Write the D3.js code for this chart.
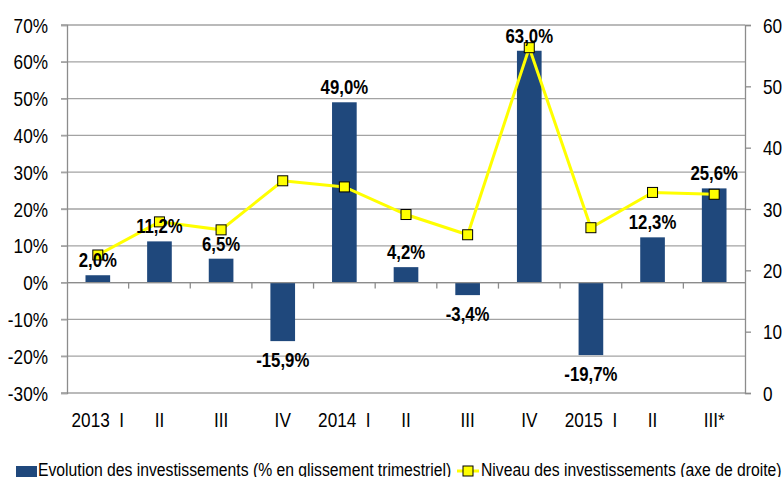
<!DOCTYPE html>
<html><head><meta charset="utf-8">
<script src="https://cdn.jsdelivr.net/npm/d3@7"></script>
<style>
html,body{margin:0;padding:0;background:#fff;overflow:hidden}
svg text{font-family:"Liberation Sans","Arial",sans-serif;fill:#000}
</style></head>
<body><svg id="c" width="783" height="477"></svg>
<script>
const categories = ["2013  I","II","III","IV","2014  I","II","III","IV","2015  I","II","III*"];
const growth = [2.0, 11.2, 6.5, -15.9, 49.0, 4.2, -3.4, 63.0, -19.7, 12.3, 25.6];
const level = [22.5, 27.9, 26.6, 34.6, 33.6, 29.1, 25.8, 56.3, 26.95, 32.7, 32.4];
const leftTicks = [-30,-20,-10,0,10,20,30,40,50,60,70];
const rightTicks = [0,10,20,30,40,50,60];
const seriesNames = ["Evolution des investissements (% en glissement trimestriel)","Niveau des investissements (axe de droite)"];

const S = 0.86; // horizontal condensing (narrow font look)
const svg = d3.select("#c");
const L = 67, R = 745, T = 25, B = 393;
const x = d3.scaleBand().domain(d3.range(categories.length)).range([L,R]).paddingInner(0.6).paddingOuter(0.3);
const xb = d3.scaleBand().domain(d3.range(categories.length)).range([L,R]);
const yL = d3.scaleLinear().domain([-30,70]).range([B,T]);
const yR = d3.scaleLinear().domain([0,60]).range([B,T]);
const fmt = v => d3.format(".1f")(v).replace(".",",").replace("−","-") + "%";
const tr = (X,Y) => `translate(${X},${Y}) scale(${S},1)`;

// gridlines
svg.append("g").selectAll("line").data(leftTicks).join("line")
  .attr("x1", L-6).attr("x2", R).attr("y1", d=>yL(d)).attr("y2", d=>yL(d))
  .attr("stroke", "#a3a3a3").attr("stroke-width", 1.3);

// left axis
const gl = svg.append("g").attr("transform",`translate(${L},0)`)
  .call(d3.axisLeft(yL).tickValues(leftTicks).tickSize(6).tickFormat(d=>d+"%"));
gl.select(".domain").attr("stroke","#8c8c8c").attr("stroke-width",1.3);
gl.selectAll(".tick line").attr("stroke","#a3a3a3").attr("stroke-width",1.3);
gl.selectAll("text").attr("font-size",20).attr("font-family",null).attr("dy","0.35em")
  .attr("x",-19/S).attr("transform",`scale(${S},1)`);

// right axis
const gr = svg.append("g").attr("transform",`translate(${R},0)`)
  .call(d3.axisRight(yR).tickValues(rightTicks).tickSize(6));
gr.select(".domain").attr("stroke","#8c8c8c").attr("stroke-width",1.3);
gr.selectAll(".tick line").attr("stroke","#8c8c8c").attr("stroke-width",1.3);
gr.selectAll("text").attr("font-size",20).attr("font-family",null).attr("dy","0.35em")
  .attr("x",18/S).attr("transform",`scale(${S},1)`);

// bars
svg.append("g").selectAll("rect").data(growth).join("rect")
  .attr("x",(d,i)=>x(i)).attr("width",x.bandwidth())
  .attr("y",d=>yL(Math.max(0,d))).attr("height",d=>Math.abs(yL(d)-yL(0)))
  .attr("fill","#1f487c");

// category axis at zero
const gx = svg.append("g").attr("transform",`translate(0,${yL(0)})`);
gx.append("line").attr("x1",L).attr("x2",R).attr("stroke","#8c8c8c").attr("stroke-width",1.3);
gx.selectAll("line.t").data(d3.range(1,categories.length)).join("line").attr("class","t")
  .attr("x1",i=>xb(i)).attr("x2",i=>xb(i)).attr("y1",0).attr("y2",6)
  .attr("stroke","#8c8c8c").attr("stroke-width",1.3);
svg.append("g").selectAll("text").data(categories).join("text")
  .attr("transform",(d,i)=>tr(xb(i)+xb.bandwidth()/2,427))
  .attr("text-anchor","middle").attr("font-size",20).style("white-space","pre").text(d=>d);

// line
const line = d3.line().x((d,i)=>xb(i)+xb.bandwidth()/2).y(d=>yR(d));
svg.append("path").datum(level).attr("d",line).attr("fill","none")
  .attr("stroke","#ffff00").attr("stroke-width",3);
svg.append("g").selectAll("rect").data(level).join("rect")
  .attr("x",(d,i)=>xb(i)+xb.bandwidth()/2-5).attr("y",d=>yR(d)-5)
  .attr("width",10).attr("height",10).attr("fill","#ffff00").attr("stroke","#000").attr("stroke-width",1);

// data labels
svg.append("g").selectAll("text").data(growth).join("text")
  .attr("transform",(d,i)=>tr(xb(i)+xb.bandwidth()/2, d>=0 ? yL(d)-8 : yL(d)+26))
  .attr("text-anchor","middle").attr("font-size",19.5).attr("font-weight","bold")
  .text(d=>fmt(d));

// legend
const lg = svg.append("g");
lg.append("rect").attr("x",16).attr("y",466).attr("width",21).attr("height",14).attr("fill","#1f487c");
lg.append("text").attr("transform",tr(38,476)).attr("font-size",18.3).text(seriesNames[0]);
lg.append("line").attr("x1",457).attr("x2",479).attr("y1",471).attr("y2",471).attr("stroke","#ffff00").attr("stroke-width",3);
lg.append("rect").attr("x",463).attr("y",466).attr("width",10).attr("height",10).attr("fill","#ffff00").attr("stroke","#000").attr("stroke-width",1);
lg.append("text").attr("transform",tr(481,476)).attr("font-size",18.3).text(seriesNames[1]);
</script></body></html>
